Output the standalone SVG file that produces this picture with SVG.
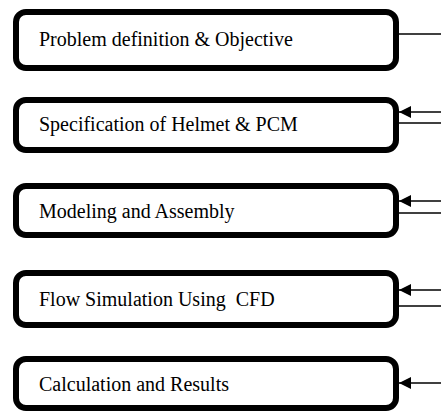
<svg xmlns="http://www.w3.org/2000/svg" width="441" height="412" viewBox="0 0 441 412">
<style>
.box{fill:#fff;stroke:#000;stroke-width:6}
.lbl{font-family:"Liberation Serif","Times New Roman",serif;font-size:20px;fill:#000}
.ln{stroke:#000;stroke-width:1.5;fill:none}
</style>
<defs>
<marker id="ah" markerUnits="userSpaceOnUse" markerWidth="13" markerHeight="12" refX="12" refY="6" orient="auto">
<path d="M0,0 L12,6 L0,12 Z" fill="#000"/>
</marker>
</defs>
<rect width="441" height="412" fill="#fff"/>
<g id="n1"><rect class="box" x="16" y="12" width="380" height="56" rx="10"/><text class="lbl" x="39" y="46">Problem definition &amp; Objective</text></g>
<g id="n2"><rect class="box" x="16" y="100" width="380" height="50" rx="10"/><text class="lbl" x="39" y="131">Specification of Helmet &amp; PCM</text></g>
<g id="n3"><rect class="box" x="16" y="186" width="380" height="49" rx="10"/><text class="lbl" x="39" y="218">Modeling and Assembly</text></g>
<g id="n4"><rect class="box" x="16" y="273" width="380" height="52" rx="10"/><text class="lbl" x="39" y="306" xml:space="preserve">Flow Simulation Using  CFD</text></g>
<g id="n5"><rect class="box" x="16" y="359" width="380" height="49" rx="10"/><text class="lbl" x="39" y="391">Calculation and Results</text></g>
<g id="connectors">
<line class="ln" x1="399" y1="34" x2="441" y2="34"/>
<line class="ln" x1="441" y1="112" x2="399" y2="112" marker-end="url(#ah)"/>
<line class="ln" x1="399" y1="123" x2="441" y2="123"/>
<line class="ln" x1="441" y1="201" x2="399" y2="201" marker-end="url(#ah)"/>
<line class="ln" x1="399" y1="213" x2="441" y2="213"/>
<line class="ln" x1="441" y1="290" x2="399" y2="290" marker-end="url(#ah)"/>
<line class="ln" x1="399" y1="306" x2="441" y2="306"/>
<line class="ln" x1="441" y1="383" x2="399" y2="383" marker-end="url(#ah)"/>
</g>
</svg>
